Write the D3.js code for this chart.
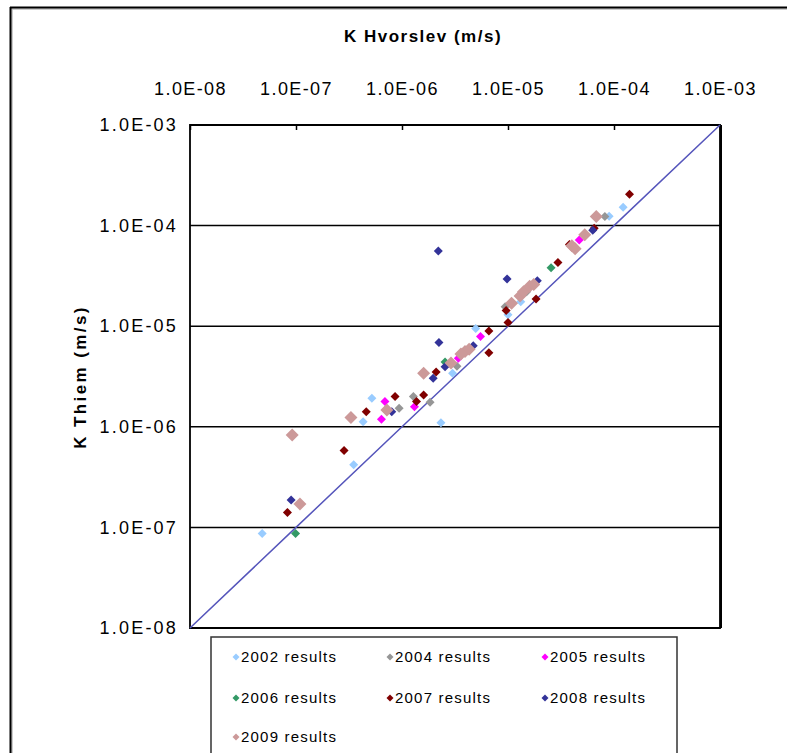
<!DOCTYPE html>
<html>
<head>
<meta charset="utf-8">
<script src="https://cdn.jsdelivr.net/npm/d3@7/dist/d3.min.js"></script>
<style>
  body { margin: 0; background: #fff; }
  svg { display: block; }
  text { font-family: Arial, "Liberation Sans", sans-serif; fill: #000; }
</style>
</head>
<body>
<svg id="chart" width="787" height="753"></svg>
<script>
// ---- data (K Hvorslev [x], K Thiem [y], m/s) ----
const tickValues = [1e-8, 1e-7, 1e-6, 1e-5, 1e-4, 1e-3];
const tickLabels = ["1.0E-08", "1.0E-07", "1.0E-06", "1.0E-05", "1.0E-04", "1.0E-03"];
const seriesNames = ["2002 results", "2004 results", "2005 results", "2006 results", "2007 results", "2008 results", "2009 results"];
const seriesColors = ["#99ccff", "#969696", "#ff00ff", "#339966", "#800000", "#333399", "#cc9999"];

const r2002 = [[4.8e-8, 8.7e-8], [3.5e-7, 4.2e-7], [4.3e-7, 1.12e-6], [5.2e-7, 1.92e-6], [2.33e-6, 1.1e-6],
  [3.0e-6, 3.4e-6], [4.96e-6, 9.5e-6], [1.0e-5, 1.3e-5], [1.32e-5, 1.75e-5], [9.0e-5, 1.24e-4], [1.22e-4, 1.52e-4]];
const r2004 = [[9.4e-7, 1.53e-6], [1.28e-6, 2.0e-6], [1.84e-6, 1.75e-6], [3.3e-6, 4.0e-6], [9.4e-6, 1.56e-5],
  [1.5e-5, 2.2e-5], [8.2e-5, 1.23e-4]];
const r2005 = [[6.4e-7, 1.19e-6], [6.9e-7, 1.78e-6], [1.31e-6, 1.58e-6], [3.4e-6, 4.8e-6], [5.5e-6, 7.9e-6],
  [4.7e-5, 7.2e-5]];
const r2006 = [[9.9e-8, 8.7e-8], [2.55e-6, 4.4e-6], [2.55e-5, 3.8e-5]];
const r2007 = [[8.3e-8, 1.41e-7], [2.84e-7, 5.8e-7], [4.6e-7, 1.41e-6], [8.6e-7, 2.0e-6], [1.37e-6, 1.78e-6],
  [1.6e-6, 2.07e-6], [2.1e-6, 3.5e-6], [6.6e-6, 5.45e-6], [6.6e-6, 8.96e-6], [1.0e-5, 1.09e-5], [9.6e-6, 1.43e-5],
  [1.84e-5, 1.86e-5], [2.96e-5, 4.3e-5], [3.8e-5, 6.5e-5], [6.5e-5, 9.4e-5], [1.4e-4, 2.05e-4]];
const r2008 = [[9.0e-8, 1.87e-7], [8.0e-7, 1.41e-6], [1.97e-6, 3.03e-6], [2.2e-6, 5.6e-5], [2.23e-6, 6.9e-6],
  [2.55e-6, 3.95e-6], [4.7e-6, 6.4e-6], [9.8e-6, 2.95e-5], [1.89e-5, 2.83e-5], [6.3e-5, 9.0e-5]];
const r2009 = [[9.2e-8, 8.3e-7], [1.09e-7, 1.71e-7], [3.3e-7, 1.24e-6], [7.2e-7, 1.47e-6], [1.6e-6, 3.4e-6],
  [2.9e-6, 4.3e-6], [3.6e-6, 5.3e-6], [3.93e-6, 5.6e-6], [4.3e-6, 5.9e-6], [1.08e-5, 1.69e-5], [1.3e-5, 2.0e-5],
  [1.4e-5, 2.2e-5], [1.6e-5, 2.5e-5], [1.75e-5, 2.6e-5], [4.0e-5, 6.3e-5], [4.3e-5, 5.9e-5], [5.3e-5, 8.1e-5],
  [6.8e-5, 1.23e-4]];
const seriesData = [r2002, r2004, r2005, r2006, r2007, r2008, r2009];
const lineData = [[1e-8, 1e-8], [1e-7, 1e-7], [1e-6, 1e-6], [1e-5, 1e-5], [1e-4, 1e-4], [1e-3, 1e-3]];

// ---- layout ----
const svg = d3.select("#chart");
const L = 190, R = 720, T = 125, B = 628;
const x = d3.scaleLog().domain([1e-8, 1e-3]).range([L, R]);
const y = d3.scaleLog().domain([1e-8, 1e-3]).range([B, T]);

// outer frame (top and left only)
svg.append("line").attr("x1", 10).attr("x2", 787).attr("y1", 9).attr("y2", 9).attr("stroke", "#bbb").attr("stroke-width", 1.5);
svg.append("line").attr("x1", 12).attr("x2", 12).attr("y1", 7).attr("y2", 753).attr("stroke", "#bbb").attr("stroke-width", 1.5);
svg.append("line").attr("x1", 10).attr("x2", 787).attr("y1", 7.5).attr("y2", 7.5).attr("stroke", "#000").attr("stroke-width", 2);
svg.append("line").attr("x1", 10.5).attr("x2", 10.5).attr("y1", 7).attr("y2", 753).attr("stroke", "#000").attr("stroke-width", 2);

// horizontal gridlines
svg.append("g").selectAll("line").data(tickValues.slice(1, 5)).join("line")
  .attr("x1", L).attr("x2", R).attr("y1", d => y(d)).attr("y2", d => y(d))
  .attr("stroke", "#000").attr("stroke-width", 1.5);

// top axis
const topAxis = d3.axisTop(x).tickValues(tickValues).tickFormat((d, i) => tickLabels[i]).tickSizeInner(-5).tickSizeOuter(0);
const gTop = svg.append("g").attr("transform", `translate(0,${T})`).call(topAxis);
gTop.select(".domain").remove();
gTop.selectAll(".tick line").attr("stroke", "#000").attr("stroke-width", 1.5);
gTop.selectAll(".tick text").attr("y", -30).attr("font-size", 18).attr("letter-spacing", 1.4)
  .attr("font-family", "Arial, 'Liberation Sans', sans-serif").attr("fill", "#000");

// left axis
const leftAxis = d3.axisLeft(y).tickValues(tickValues).tickFormat((d, i) => tickLabels[i]).tickSize(0);
const gLeft = svg.append("g").attr("transform", `translate(${L},0)`).call(leftAxis);
gLeft.select(".domain").remove();
gLeft.selectAll(".tick text").attr("x", -12).attr("font-size", 18).attr("letter-spacing", 2.2)
  .attr("font-family", "Arial, 'Liberation Sans', sans-serif").attr("fill", "#000");

// plot border
svg.append("path").attr("d", `M${L},${T}H${R}V${B}H${L}Z`).attr("fill", "none").attr("stroke", "#000").attr("stroke-width", 1.8);
svg.append("line").attr("x1", R + 1).attr("x2", R + 1).attr("y1", T).attr("y2", B).attr("stroke", "#000").attr("stroke-width", 2);

// 1:1 line
const line = d3.line().x(d => x(d[0])).y(d => y(d[1]));
svg.append("path").datum(lineData).attr("d", line).attr("fill", "none").attr("stroke", "#5555bb").attr("stroke-width", 1.5);

// points
const diamond = (s) => `M0,${-s}L${s},0L0,${s}L${-s},0Z`;
seriesData.forEach((pts, i) => {
  const s = i === 6 ? 6.5 : 4.5;
  svg.append("g").selectAll("path").data(pts).join("path")
    .attr("d", diamond(s))
    .attr("transform", d => `translate(${x(d[0])},${y(d[1])})`)
    .attr("fill", seriesColors[i]);
});

// axis titles
svg.append("text").attr("x", 423).attr("y", 42).attr("text-anchor", "middle")
  .attr("font-size", 17).attr("font-weight", "bold").attr("letter-spacing", 1.5).text("K Hvorslev (m/s)");
svg.append("text").attr("transform", "translate(86,377) rotate(-90)").attr("text-anchor", "middle")
  .attr("font-size", 17).attr("font-weight", "bold").attr("letter-spacing", 2.4).text("K Thiem (m/s)");

// legend
svg.append("rect").attr("x", 211).attr("y", 637).attr("width", 466).attr("height", 130)
  .attr("fill", "#fff").attr("stroke", "#333").attr("stroke-width", 1.5);
const legX = [236, 390, 545], legY = [657, 698, 737];
seriesNames.forEach((name, i) => {
  const cx = legX[i % 3], cy = legY[Math.floor(i / 3)];
  svg.append("path").attr("d", diamond(3.5)).attr("transform", `translate(${cx},${cy})`).attr("fill", seriesColors[i]);
  svg.append("text").attr("x", cx + 5).attr("y", cy + 5).attr("font-size", 15).attr("letter-spacing", 1.2).text(name);
});
</script>
</body>
</html>
